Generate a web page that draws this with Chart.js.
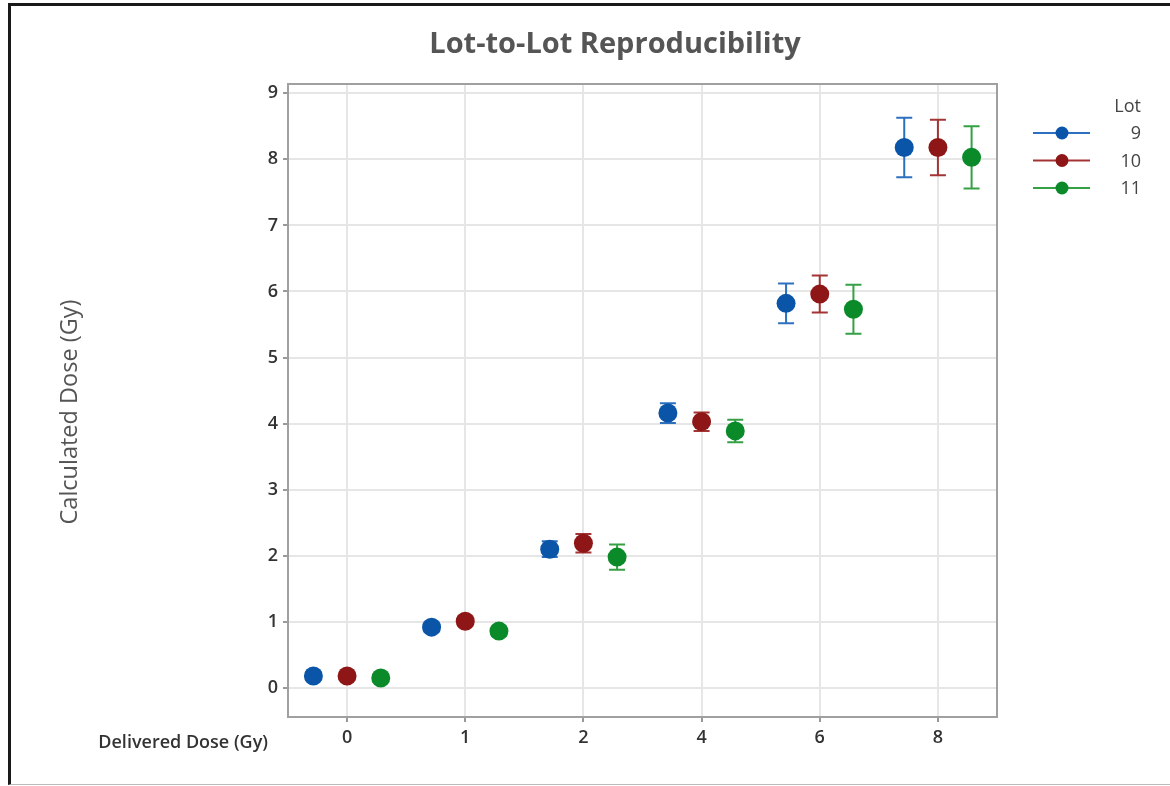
<!DOCTYPE html>
<html>
<head>
<meta charset="utf-8">
<script src="https://cdn.jsdelivr.net/npm/chart.js@4.4.1/dist/chart.umd.min.js"></script>
<style>
  html, body { margin: 0; padding: 0; background: #fff; }
  #wrap { position: relative; width: 1170px; height: 786px; }
  #frame {
    position: absolute; left: 8px; top: 3px; width: 1170px; height: 778px;
    border-left: 3px solid #1a1a1a; border-top: 3px solid #1a1a1a; border-bottom: 1px solid #bbb;
    pointer-events: none;
  }
  canvas { position: absolute; left: 0; top: 0; }
</style>
</head>
<body>
<div id="wrap">
  <canvas id="chart" width="1170" height="786"></canvas>
  <div id="frame"></div>
</div>
<script>
const doses = ["0", "1", "2", "4", "6", "8"];
const lots = ["9", "10", "11"];

const lot9 = [0.18, 0.92, 2.10, 4.16, 5.82, 8.18];
const lot10 = [0.18, 1.01, 2.19, 4.03, 5.96, 8.18];
const lot11 = [0.15, 0.86, 1.98, 3.89, 5.73, 8.03];

const err9 = [0.06, 0.07, 0.12, 0.15, 0.30, 0.45];
const err10 = [0.06, 0.07, 0.14, 0.14, 0.28, 0.42];
const err11 = [0.06, 0.07, 0.19, 0.17, 0.37, 0.47];

const yTicks = [0, 1, 2, 3, 4, 5, 6, 7, 8, 9];

const markerColors = ["#0a55a8", "#8e1616", "#0b8a2a"];
const barColors = ["#2e70c0", "#a43434", "#35a044"];
const shift = [-0.285, 0, 0.285];
const FONT = "'Open Sans', 'Noto Sans', sans-serif";

function points(vals, k) {
  return vals.map((v, i) => ({ x: i + shift[k], y: v }));
}

const errors = [err9, err10, err11];

const errorBars = {
  id: "errorBars",
  beforeDatasetsDraw(chart) {
    const ctx = chart.ctx;
    const xs = chart.scales.x, ys = chart.scales.y;
    chart.data.datasets.forEach((ds, k) => {
      ctx.save();
      ctx.strokeStyle = barColors[k];
      ctx.lineWidth = 2;
      ds.data.forEach((p, i) => {
        const e = errors[k][i];
        const px = xs.getPixelForValue(p.x);
        const top = ys.getPixelForValue(p.y + e);
        const bot = ys.getPixelForValue(p.y - e);
        ctx.beginPath();
        ctx.moveTo(px, top); ctx.lineTo(px, bot);
        ctx.moveTo(px - 8, top); ctx.lineTo(px + 8, top);
        ctx.moveTo(px - 8, bot); ctx.lineTo(px + 8, bot);
        ctx.stroke();
      });
      ctx.restore();
    });
  }
};

const extras = {
  id: "extras",
  afterDraw(chart) {
    const ctx = chart.ctx;
    const a = chart.chartArea;
    ctx.save();
    // plot frame
    ctx.strokeStyle = "#a0a0a0";
    ctx.lineWidth = 2;
    ctx.strokeRect(a.left, a.top, a.right - a.left, a.bottom - a.top);

    // title
    ctx.fillStyle = "#555";
    ctx.font = "bold 29px " + FONT;
    ctx.textAlign = "center";
    ctx.textBaseline = "middle";
    ctx.fillText("Lot-to-Lot Reproducibility", 615, 45);

    // y axis title
    ctx.save();
    ctx.translate(70, 412);
    ctx.rotate(-Math.PI / 2);
    ctx.font = "23.5px " + FONT;
    ctx.fillStyle = "#555";
    ctx.fillText("Calculated Dose (Gy)", 0, 0);
    ctx.restore();

    // x axis label on the tick line
    ctx.fillStyle = "#333";
    ctx.font = "600 18px " + FONT;
    ctx.textAlign = "right";
    ctx.fillText("Delivered Dose (Gy)", 268, 743);

    // legend
    ctx.fillStyle = "#444";
    ctx.font = "18px " + FONT;
    ctx.textAlign = "right";
    ctx.fillText("Lot", 1141, 107);
    chart.data.datasets.forEach((ds, k) => {
      const y = 133 + k * 27.5;
      ctx.strokeStyle = barColors[k];
      ctx.lineWidth = 2;
      ctx.beginPath();
      ctx.moveTo(1033, y); ctx.lineTo(1090, y);
      ctx.stroke();
      ctx.fillStyle = markerColors[k];
      ctx.beginPath();
      ctx.arc(1062, y, 6.5, 0, Math.PI * 2);
      ctx.fill();
      ctx.fillStyle = "#444";
      ctx.fillText(ds.label, 1141, y + 1);
    });
    ctx.restore();
  }
};

new Chart(document.getElementById("chart"), {
  type: "scatter",
  data: {
    datasets: [
      { label: lots[0], data: points(lot9, 0), backgroundColor: markerColors[0], borderColor: markerColors[0] },
      { label: lots[1], data: points(lot10, 1), backgroundColor: markerColors[1], borderColor: markerColors[1] },
      { label: lots[2], data: points(lot11, 2), backgroundColor: markerColors[2], borderColor: markerColors[2] }
    ]
  },
  options: {
    responsive: false,
    animation: false,
    layout: { padding: { left: 54, top: 84, right: 173, bottom: 19 } },
    elements: { point: { radius: 9.5, borderWidth: 0, hoverRadius: 9.5 } },
    plugins: { legend: { display: false }, tooltip: { enabled: false } },
    scales: {
      x: {
        type: "linear",
        min: -0.5,
        max: 5.5,
        afterBuildTicks: s => { s.ticks = doses.map((d, i) => ({ value: i })); },
        afterFit: s => { s.height = 50; },
        grid: { color: "#e6e6e6", lineWidth: 2, tickColor: "#999", tickLength: 5 },
        border: { display: false },
        ticks: {
          callback: v => doses[v],
          color: "#333",
          padding: 5,
          font: { family: FONT, size: 18, weight: "600" }
        }
      },
      y: {
        min: -0.44,
        max: 9.14,
        afterBuildTicks: s => { s.ticks = yTicks.map(v => ({ value: v })); },
        afterFit: s => { s.width = 234; },
        grid: { color: "#e6e6e6", lineWidth: 2, tickColor: "#999", tickLength: 5 },
        border: { display: false },
        ticks: {
          color: "#333",
          padding: 5,
          font: { family: FONT, size: 18, weight: "600" }
        }
      }
    }
  },
  plugins: [errorBars, extras]
});
</script>
</body>
</html>
